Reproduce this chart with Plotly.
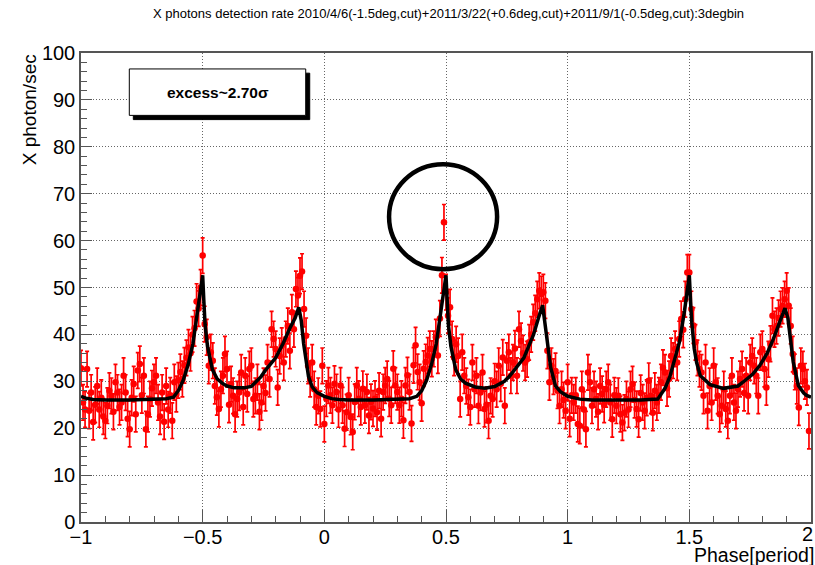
import plotly.graph_objects as go

# ---------------- data ----------------
# measured rate per 3-degree phase bin (120 bins per period, 3 periods from -1 to 2)
rate_p1 = [32.8, 25.5, 24.0, 32.6, 23.7, 27.6, 21.3, 25.0, 29.0, 24.0, 26.5, 22.5,
           21.6, 24.8, 28.0, 26.9, 23.5, 29.8, 27.6, 24.5, 25.5, 31.2, 27.6, 22.0,
           19.8, 26.5, 29.4, 23.0, 32.3, 33.7, 27.0, 31.2, 19.8, 23.0, 26.2, 28.5,
           29.8, 31.2, 25.5, 22.5, 27.6, 21.4, 29.0, 24.0, 27.0, 21.6, 29.8, 27.3,
           30.2, 32.0, 30.5, 33.4, 35.0, 37.2, 36.0, 40.0, 41.3, 47.0, 45.5, 50.0,
           56.8, 42.2, 39.4, 33.3, 36.2, 34.4, 29.0, 26.6, 24.1, 28.3, 31.2, 35.8,
           32.6, 25.0, 29.4, 26.9, 23.0, 26.2, 27.6, 31.9, 24.5, 31.2, 27.3, 32.6,
           33.3, 26.2, 26.9, 29.8, 23.5, 25.5, 29.0, 27.5, 34.0, 30.5, 41.1, 39.0,
           36.9, 28.7, 35.4, 37.6, 34.0, 39.0, 41.8, 36.5, 44.7, 41.1, 49.7, 48.3,
           52.5, 53.4, 45.4, 39.7, 33.3, 30.5, 34.0, 28.3, 24.5, 26.9, 24.1, 33.3]
rate_p2 = [20.9, 26.3, 29.1, 27.0, 24.9, 29.5, 27.7, 24.0, 29.1, 24.9, 19.9, 23.4,
           27.0, 22.4, 19.2, 25.6, 29.1, 26.3, 24.5, 28.4, 24.9, 27.7, 22.7, 25.6,
           24.2, 26.3, 23.4, 28.0, 22.0, 27.7, 29.1, 30.5, 26.3, 24.9, 32.7, 29.1,
           27.7, 24.9, 26.3, 21.7, 29.1, 31.3, 27.7, 21.0, 33.4, 37.7, 32.0, 29.8,
           25.3, 32.7, 34.1, 35.5, 36.9, 34.8, 36.9, 39.4, 35.5, 43.4, 52.6, 63.9,
           49.0, 44.0, 45.8, 39.0, 35.0, 37.9, 35.4, 26.2, 36.2, 31.2, 29.0, 26.6,
           24.5, 34.0, 28.3, 31.2, 24.8, 27.6, 31.9, 24.1, 25.0, 21.6, 26.9, 26.2,
           30.0, 28.3, 33.3, 29.5, 35.1, 24.8, 34.4, 36.2, 31.2, 34.0, 37.0, 31.2,
           41.1, 38.6, 36.0, 34.0, 34.7, 38.3, 40.0, 42.6, 44.5, 47.5, 49.3, 48.6,
           49.0, 47.2, 36.5, 29.8, 33.3, 31.0, 32.2, 28.0, 24.8, 28.3, 26.0, 23.7]
rate_p3 = [29.8, 22.0, 27.0, 25.5, 27.0, 20.9, 20.5, 28.3, 24.0, 19.8, 31.9, 29.8,
           24.8, 28.3, 26.2, 23.5, 29.0, 27.3, 25.0, 28.3, 29.8, 25.5, 21.9, 27.0,
           24.8, 26.9, 23.0, 21.2, 23.3, 26.2, 24.0, 28.3, 29.4, 26.0, 24.1, 21.9,
           27.5, 25.5, 23.7, 26.5, 30.1, 26.9, 23.3, 28.0, 25.5, 27.0, 29.8, 32.9,
           31.9, 28.5, 30.5, 35.4, 34.4, 36.9, 34.0, 39.0, 43.3, 41.0, 47.5, 53.2,
           53.2, 45.4, 41.9, 38.3, 35.0, 32.6, 31.9, 26.9, 34.0, 23.7, 29.0, 25.5,
           33.3, 29.8, 26.9, 23.0, 24.8, 28.3, 24.1, 21.6, 26.9, 31.2, 25.5, 23.7,
           28.3, 30.5, 32.6, 27.5, 31.2, 26.9, 34.0, 35.4, 33.3, 31.2, 26.9, 36.2,
           36.9, 32.6, 28.7, 34.7, 38.0, 44.0, 41.1, 41.8, 43.5, 45.4, 46.1, 47.5,
           49.3, 46.1, 41.8, 35.8, 32.0, 29.0, 24.4, 33.3, 32.6, 30.0, 28.7, 19.4]
rate = rate_p1 + rate_p2 + rate_p3
bins_per_period = 120
phase = [-1 + i / bins_per_period for i in range(len(rate))]
rate_err = 3.8

# model light curve (black), read at control phases
model_phase = [-1.00, -0.98, -0.95, -0.90, -0.80, -0.70, -0.65, -0.62, -0.60, -0.58,
               -0.56, -0.54, -0.52, -0.51, -0.50, -0.495, -0.49, -0.48, -0.47, -0.46,
               -0.44, -0.42, -0.40, -0.37, -0.33, -0.30, -0.26, -0.24, -0.20, -0.17,
               -0.14, -0.12, -0.105, -0.095, -0.085, -0.075, -0.065, -0.05, -0.03, 0.00,
               0.03, 0.06, 0.10, 0.20, 0.30, 0.35, 0.38, 0.40, 0.42, 0.44,
               0.46, 0.48, 0.49, 0.50, 0.505, 0.51, 0.52, 0.53, 0.54, 0.56,
               0.58, 0.62, 0.66, 0.70, 0.74, 0.76, 0.80, 0.82, 0.84, 0.86,
               0.88, 0.897, 0.905, 0.915, 0.93, 0.95, 0.97, 1.00,
               1.05, 1.10, 1.30, 1.37, 1.38, 1.40, 1.42, 1.44, 1.46, 1.48,
               1.49, 1.50, 1.505, 1.51, 1.52, 1.53, 1.545, 1.565, 1.585, 1.64,
               1.70, 1.72, 1.76, 1.79, 1.82, 1.845, 1.87, 1.893, 1.905, 1.914,
               1.927, 1.948, 1.97, 1.982, 2.00]
model_rate = [26.8, 26.4, 26.1, 26.0, 26.0, 26.1, 26.3, 26.6, 28.0, 30.2,
              33.5, 38.0, 45.0, 49.0, 52.6, 47.0, 42.0, 37.5, 34.5, 32.5,
              30.5, 29.6, 29.0, 28.6, 28.6, 28.9, 31.0, 32.5, 35.0, 38.0,
              41.5, 43.5, 45.8, 43.0, 38.0, 34.0, 31.0, 28.8, 27.6, 26.8,
              26.3, 26.1, 26.0, 26.0, 26.1, 26.3, 26.8, 28.0, 30.2, 33.5,
              38.0, 45.0, 49.0, 52.6, 47.0, 42.0, 37.5, 34.5, 32.5, 30.5,
              29.6, 28.8, 28.5, 28.9, 30.0, 31.0, 33.5, 35.0, 37.5, 40.0,
              43.5, 46.2, 43.0, 38.5, 33.0, 29.0, 27.8, 26.8,
              26.2, 26.0, 26.0, 26.2, 27.0, 28.5, 31.0, 34.5, 38.5, 45.0,
              49.0, 52.6, 47.0, 42.6, 37.0, 34.0, 31.2, 30.2, 29.3, 28.5,
              29.0, 29.8, 31.5, 33.4, 36.0, 39.0, 42.5, 45.6, 43.5, 40.0,
              34.1, 29.1, 27.5, 27.0, 26.6]

title_text = "X photons detection rate 2010/4/6(-1.5deg,cut)+2011/3/22(+0.6deg,cut)+2011/9/1(-0.5deg,cut):3degbin"
label_text = "excess~2.70σ"
x_title = "Phase[period]"
y_title = "X photon/sec"
x_last_tick = "2"

FONT = "Liberation Sans, Arial, Helvetica, sans-serif"

fig = go.Figure()

fig.add_trace(go.Scatter(
    x=phase, y=rate, mode="markers",
    marker=dict(symbol="circle", size=6.5, color="#ff0000"),
    error_y=dict(type="constant", value=rate_err, color="#ff0000", thickness=1.7, width=2),
    showlegend=False, hoverinfo="x+y"))

fig.add_trace(go.Scatter(
    x=model_phase, y=model_rate, mode="lines",
    line=dict(color="black", width=3.5),
    showlegend=False))

# circle around the excess bin
fig.add_shape(type="circle", xref="x", yref="y",
              x0=0.266, x1=0.710, y0=53.9, y1=76.3,
              line=dict(color="black", width=4.5))

# text box with shadow
fig.add_shape(type="rect", xref="x", yref="y",
              x0=-0.7850, x1=-0.0600, y0=85.8, y1=95.7,
              fillcolor="black", line=dict(color="black", width=1), layer="above")
fig.add_shape(type="rect", xref="x", yref="y",
              x0=-0.8015, x1=-0.0765, y0=86.7, y1=96.6,
              fillcolor="white", line=dict(color="black", width=1), layer="above")
fig.add_annotation(x=-0.439, y=91.6, xref="x", yref="y", text="<b>" + label_text + "</b>",
                   showarrow=False, font=dict(family=FONT, size=15.5, color="black"))

# title and axis titles
fig.add_annotation(x=0.5, y=1, xref="paper", yref="paper", yshift=40, xshift=2,
                   text=title_text, showarrow=False, xanchor="center", yanchor="middle",
                   font=dict(family=FONT, size=13, color="black"))
fig.add_annotation(x=0, y=0.878, xref="paper", yref="paper", xshift=-52,
                   text=y_title, textangle=-90, showarrow=False,
                   xanchor="center", yanchor="middle",
                   font=dict(family=FONT, size=19, color="black"))
fig.add_annotation(x=1, y=0, xref="paper", yref="paper", yshift=-32.5, xshift=4,
                   text=x_title, showarrow=False, xanchor="right", yanchor="middle",
                   borderpad=0, font=dict(family=FONT, size=19.5, color="black"))
# last x tick label (sits at the canvas edge, so plotly would drop it)
fig.add_annotation(x=1, y=0, xref="paper", yref="paper", yshift=-11.5, xshift=3,
                   text=x_last_tick, showarrow=False, xanchor="right", yanchor="middle",
                   borderpad=0, font=dict(family=FONT, size=20, color="black"))

axis_common = dict(
    showline=True, mirror=True, linecolor="#555555", linewidth=1.5,
    ticks="inside", tickcolor="#555555", tickwidth=1,
    zeroline=False, showgrid=True, gridcolor="#666666", griddash="1px,2px", gridwidth=1,
    tickfont=dict(family=FONT, size=20, color="black"),
    automargin=False,
)

fig.update_xaxes(range=[-1, 2], dtick=0.5, tick0=-1, ticklen=12, ticklabelstandoff=-4,
                 minor=dict(ticks="inside", dtick=0.1, ticklen=6, tickcolor="#555555", showgrid=False),
                 **axis_common)
fig.update_yaxes(range=[0, 100], dtick=10, tick0=0, ticklen=11,
                 minor=dict(ticks="inside", dtick=2, ticklen=6, tickcolor="#555555", showgrid=False),
                 **axis_common)

fig.update_layout(
    width=815, height=565,
    margin=dict(l=81, r=4, t=53, b=43),
    paper_bgcolor="white", plot_bgcolor="white",
    font=dict(family=FONT, color="black"),
)

fig.write_html("out.html")
